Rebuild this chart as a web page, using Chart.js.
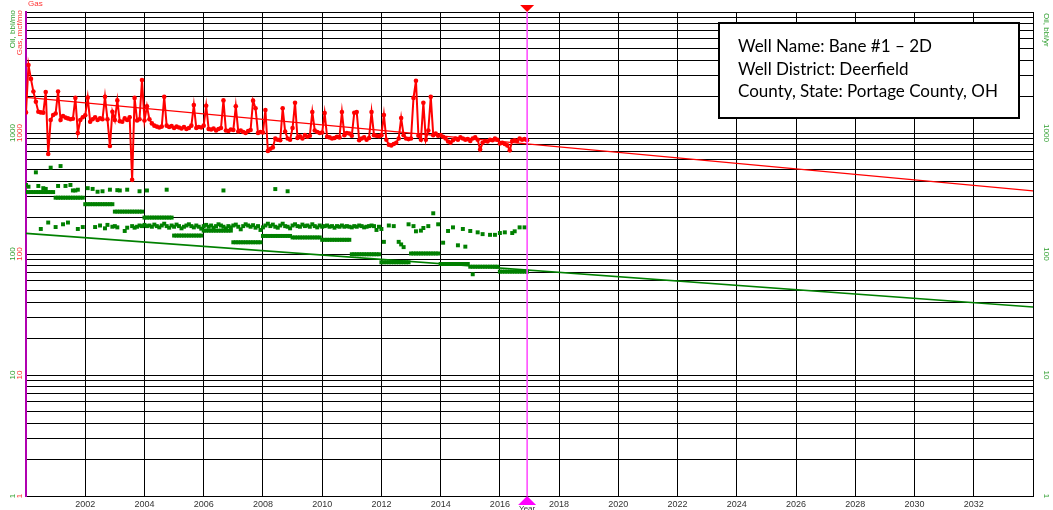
<!DOCTYPE html>
<html>
<head>
<meta charset="utf-8">
<script src="https://cdn.jsdelivr.net/npm/chart.js@4/dist/chart.umd.min.js"></script>
<style>
body{margin:0;background:#fff;}
</style>
</head>
<body>
<canvas id="decline" width="1053" height="510"></canvas>
<script>
// production starts Jan 2000, one value per month
var firstYear = 2000;

// gas, mcf/mo
var gasMonthly = [
  1480,3650,2800,2200,1810,1500,1480,1470,2180,670,1280,1410,
  1450,2200,1280,1380,1340,1320,1300,1310,1950,1000,1280,1350,
  1400,1960,1240,1300,1350,1280,1320,1300,1990,1300,780,1500,
  1280,1860,1250,1240,1320,1280,1350,410,1950,1270,1300,2740,
  1270,1660,1300,1200,1150,1130,1110,1130,1990,1150,1120,1140,
  1100,1130,1110,1090,1120,1080,1100,1150,1700,1100,1120,1110,
  1150,1680,1080,1070,1090,1050,1080,1100,1860,1050,1040,1070,
  1060,1660,1030,1050,1020,1000,1040,1060,1850,1600,1000,1020,
  1010,1550,710,740,760,900,880,870,1600,1030,900,880,
  1100,1780,910,940,900,960,930,950,1490,1050,1020,1000,
  1010,1460,930,920,900,910,930,920,1490,960,1000,990,
  950,1470,1490,870,900,920,880,910,1490,960,950,940,
  960,1410,880,800,790,810,830,900,1330,960,900,890,
  900,1950,2700,950,880,1780,880,1050,1990,960,990,950,
  960,930,900,850,830,870,900,880,920,900,880,890,
  860,900,920,880,730,830,860,850,880,870,900,880,
  820,830,810,790,720,860,870,860,900,880,890,870
];

// oil, bbl/mo (null = no reading that month)
var oilMonthly = [
  null,null,null,null,null,null,161,null,null,182,null,null,
  167,null,null,176,null,182,null,null,null,161,null,167,
  null,null,null,null,167,null,172,null,163,174,null,168,
  170,166,null,null,155,165,null,170,165,168,172,170,
  174,170,172,168,175,170,166,172,178,170,165,172,
  168,175,170,163,168,172,176,170,166,172,168,162,
  170,174,168,172,165,170,176,172,168,163,170,166,
  172,175,168,160,170,176,172,168,173,165,170,158,
  166,172,178,170,175,168,165,172,178,170,168,163,
  172,176,170,168,175,170,172,168,176,170,166,172,
  168,170,172,168,170,165,170,168,172,168,170,168,
  166,170,168,172,170,166,168,170,172,170,158,168,
  161,126,null,172,null,170,null,126,120,114,null,176,
  null,170,154,null,156,164,null,170,null,217,null,176,
  null,124,null,155,null,166,null,118,null,161,115,null,
  155,68,null,151,null,146,null,null,144,null,144,null,
  149,null,151,null,null,149,154,null,166,null,166,null
];

// second set of early oil readings, bbl/mo
var oilHighMonth = [0,1,4,5,7,8,10,13,14,16,18,19,20,21,25,27,29,31,34,37,38,41,46,49,57,80,101,106];
var oilHighValue = [372,360,473,365,350,345,517,365,533,365,372,335,335,340,350,345,327,330,340,337,335,340,330,335,340,335,344,330];

// oil, bbl/yr, 2000 .. 2016
var oilYears = [2000,2001,2002,2003,2004,2005,2006,2007,2008,2009,2010,2011,2012,2013,2014,2015,2016];
var oilYearly = [325,292,258,224,200,142,156,125,141,137,131,99.5,85.4,101,82.7,78.5,71.5];

// decline fits
var trendYears = [2000,2034];
var gasTrend = [1970,332];
var oilTrend = [148,36.5];

var forecastStart = 2016.92;
var yLabels = [1,10,100,1000];
var wellInfo = ['Well Name: Bane #1 \u2013 2D','Well District: Deerfield','County, State: Portage County, OH'];

var GREEN = '#008000';
var RED = '#ff0000';

function monthX(i){ return firstYear + i/12; }

var gasPts = gasMonthly.map(function(v,i){ return {x: monthX(i), y: v}; });
var oilPts = [];
oilMonthly.forEach(function(v,i){ if(v!==null) oilPts.push({x: monthX(i), y: v}); });
oilHighMonth.forEach(function(m,k){ oilPts.push({x: monthX(m), y: oilHighValue[k]}); });
var lastMonth = gasMonthly.length - 1;
var yearPts = [];
oilYears.forEach(function(yr,k){
  for(var m=0;m<12;m++){
    var i=(yr-firstYear)*12+m;
    if(i>lastMonth) break;
    yearPts.push({x: monthX(i), y: oilYearly[k]});
  }
});

function rotText(ctx, s, x, y, ang, color, align){
  ctx.save();
  ctx.translate(x,y);
  ctx.rotate(ang);
  ctx.fillStyle=color;
  ctx.textAlign=align||'center';
  ctx.textBaseline='middle';
  ctx.fillText(s,0,0);
  ctx.restore();
}

var decorations = {
  id:'decorations',
  afterDraw:function(chart){
    var ctx=chart.ctx, xs=chart.scales.x, ys=chart.scales.y;
    ctx.save();
    ctx.font='8px "Liberation Sans", Arial, sans-serif';
    yLabels.forEach(function(v){
      var py=ys.getPixelForValue(v);
      rotText(ctx,String(v),13,py,-Math.PI/2,'#33a033');
      rotText(ctx,String(v),20,py,-Math.PI/2,'#ff3333');
      rotText(ctx,String(v),1046,py,Math.PI/2,'#33a033');
    });
    rotText(ctx,'Oil, bbl/mo',13,10,-Math.PI/2,'#33a033','right');
    rotText(ctx,'Gas, mcf/mo',20,10,-Math.PI/2,'#ff3333','right');
    rotText(ctx,'Oil, bbl/yr',1046,13,Math.PI/2,'#33a033','left');
    ctx.fillStyle='#ff3333';
    ctx.textAlign='left'; ctx.textBaseline='middle';
    ctx.fillText('Gas',28,4);

    // forecast marker arrows
    var px=xs.getPixelForValue(forecastStart);
    ctx.fillStyle=RED;
    ctx.beginPath(); ctx.moveTo(px-7,5); ctx.lineTo(px+7,5); ctx.lineTo(px,12); ctx.closePath(); ctx.fill();
    ctx.fillStyle='#ff00ff';
    ctx.beginPath(); ctx.moveTo(px,496); ctx.lineTo(px-9,505); ctx.lineTo(px+9,505); ctx.closePath(); ctx.fill();
    ctx.fillStyle='#333';
    ctx.textAlign='center'; ctx.textBaseline='top';
    ctx.fillText('Year',px,505);

    // well info box
    ctx.fillStyle='#fff';
    ctx.fillRect(719,23,300,95);
    ctx.strokeStyle='#000'; ctx.lineWidth=2;
    ctx.strokeRect(719,23,300,95);
    ctx.fillStyle='#000';
    ctx.font='17px Lato, "Liberation Sans", sans-serif';
    ctx.textAlign='left'; ctx.textBaseline='middle';
    wellInfo.forEach(function(s,k){ ctx.fillText(s,738,47+k*22.5); });
    ctx.restore();
  }
};

new Chart(document.getElementById('decline'), {
  type:'line',
  data:{
    datasets:[
      {
        data:[{x:forecastStart,y:1},{x:forecastStart,y:10000}],
        borderColor:'#ff44ff', borderWidth:1.5, pointRadius:0, order:0
      },
      {
        data:gasPts, borderColor:RED, backgroundColor:RED, borderWidth:2,
        pointRadius:2.3, pointBorderWidth:0, pointBackgroundColor:RED, tension:0, order:1
      },
      {
        data:[{x:trendYears[0],y:gasTrend[0]},{x:trendYears[1],y:gasTrend[1]}],
        borderColor:RED, borderWidth:1.3, pointRadius:0, order:2
      },
      {
        data:oilPts, showLine:false, pointStyle:'rect', pointRadius:2.8,
        pointBorderWidth:0, pointBackgroundColor:GREEN, order:3
      },
      {
        data:yearPts, showLine:false, pointStyle:'rect', pointRadius:2.8,
        pointBorderWidth:0, pointBackgroundColor:GREEN, order:4
      },
      {
        data:[{x:trendYears[0],y:oilTrend[0]},{x:trendYears[1],y:oilTrend[1]}],
        borderColor:GREEN, borderWidth:1.6, pointRadius:0, order:5
      }
    ]
  },
  options:{
    responsive:false,
    animation:false,
    devicePixelRatio:1,
    events:[],
    layout:{padding:{left:26,right:20,top:12,bottom:0}},
    plugins:{legend:{display:false},tooltip:{enabled:false}},
    scales:{
      x:{
        type:'linear', min:2000, max:2034,
        grid:{color:'#000',lineWidth:1,drawTicks:false},
        border:{color:'#000',width:1},
        ticks:{
          stepSize:2, padding:3, color:'#333',
          font:{size:9,family:'"Liberation Sans", Arial, sans-serif'},
          maxRotation:0, autoSkip:false,
          callback:function(v){ return (v===2000||v===2034)?'':String(v); }
        },
        afterFit:function(s){ s.height=14; }
      },
      y:{
        type:'logarithmic', min:1, max:10000,
        grid:{color:'#000',lineWidth:1,drawTicks:false},
        border:{color:'#b000b0',width:2},
        ticks:{display:false,autoSkip:false},
        afterBuildTicks:function(s){
          var t=[];
          for(var e=0;e<4;e++) for(var m=1;m<10;m++) t.push({value:m*Math.pow(10,e)});
          t.push({value:10000});
          s.ticks=t;
        },
        afterFit:function(s){ s.width=0; }
      }
    }
  },
  plugins:[decorations]
});
</script>
</body>
</html>
